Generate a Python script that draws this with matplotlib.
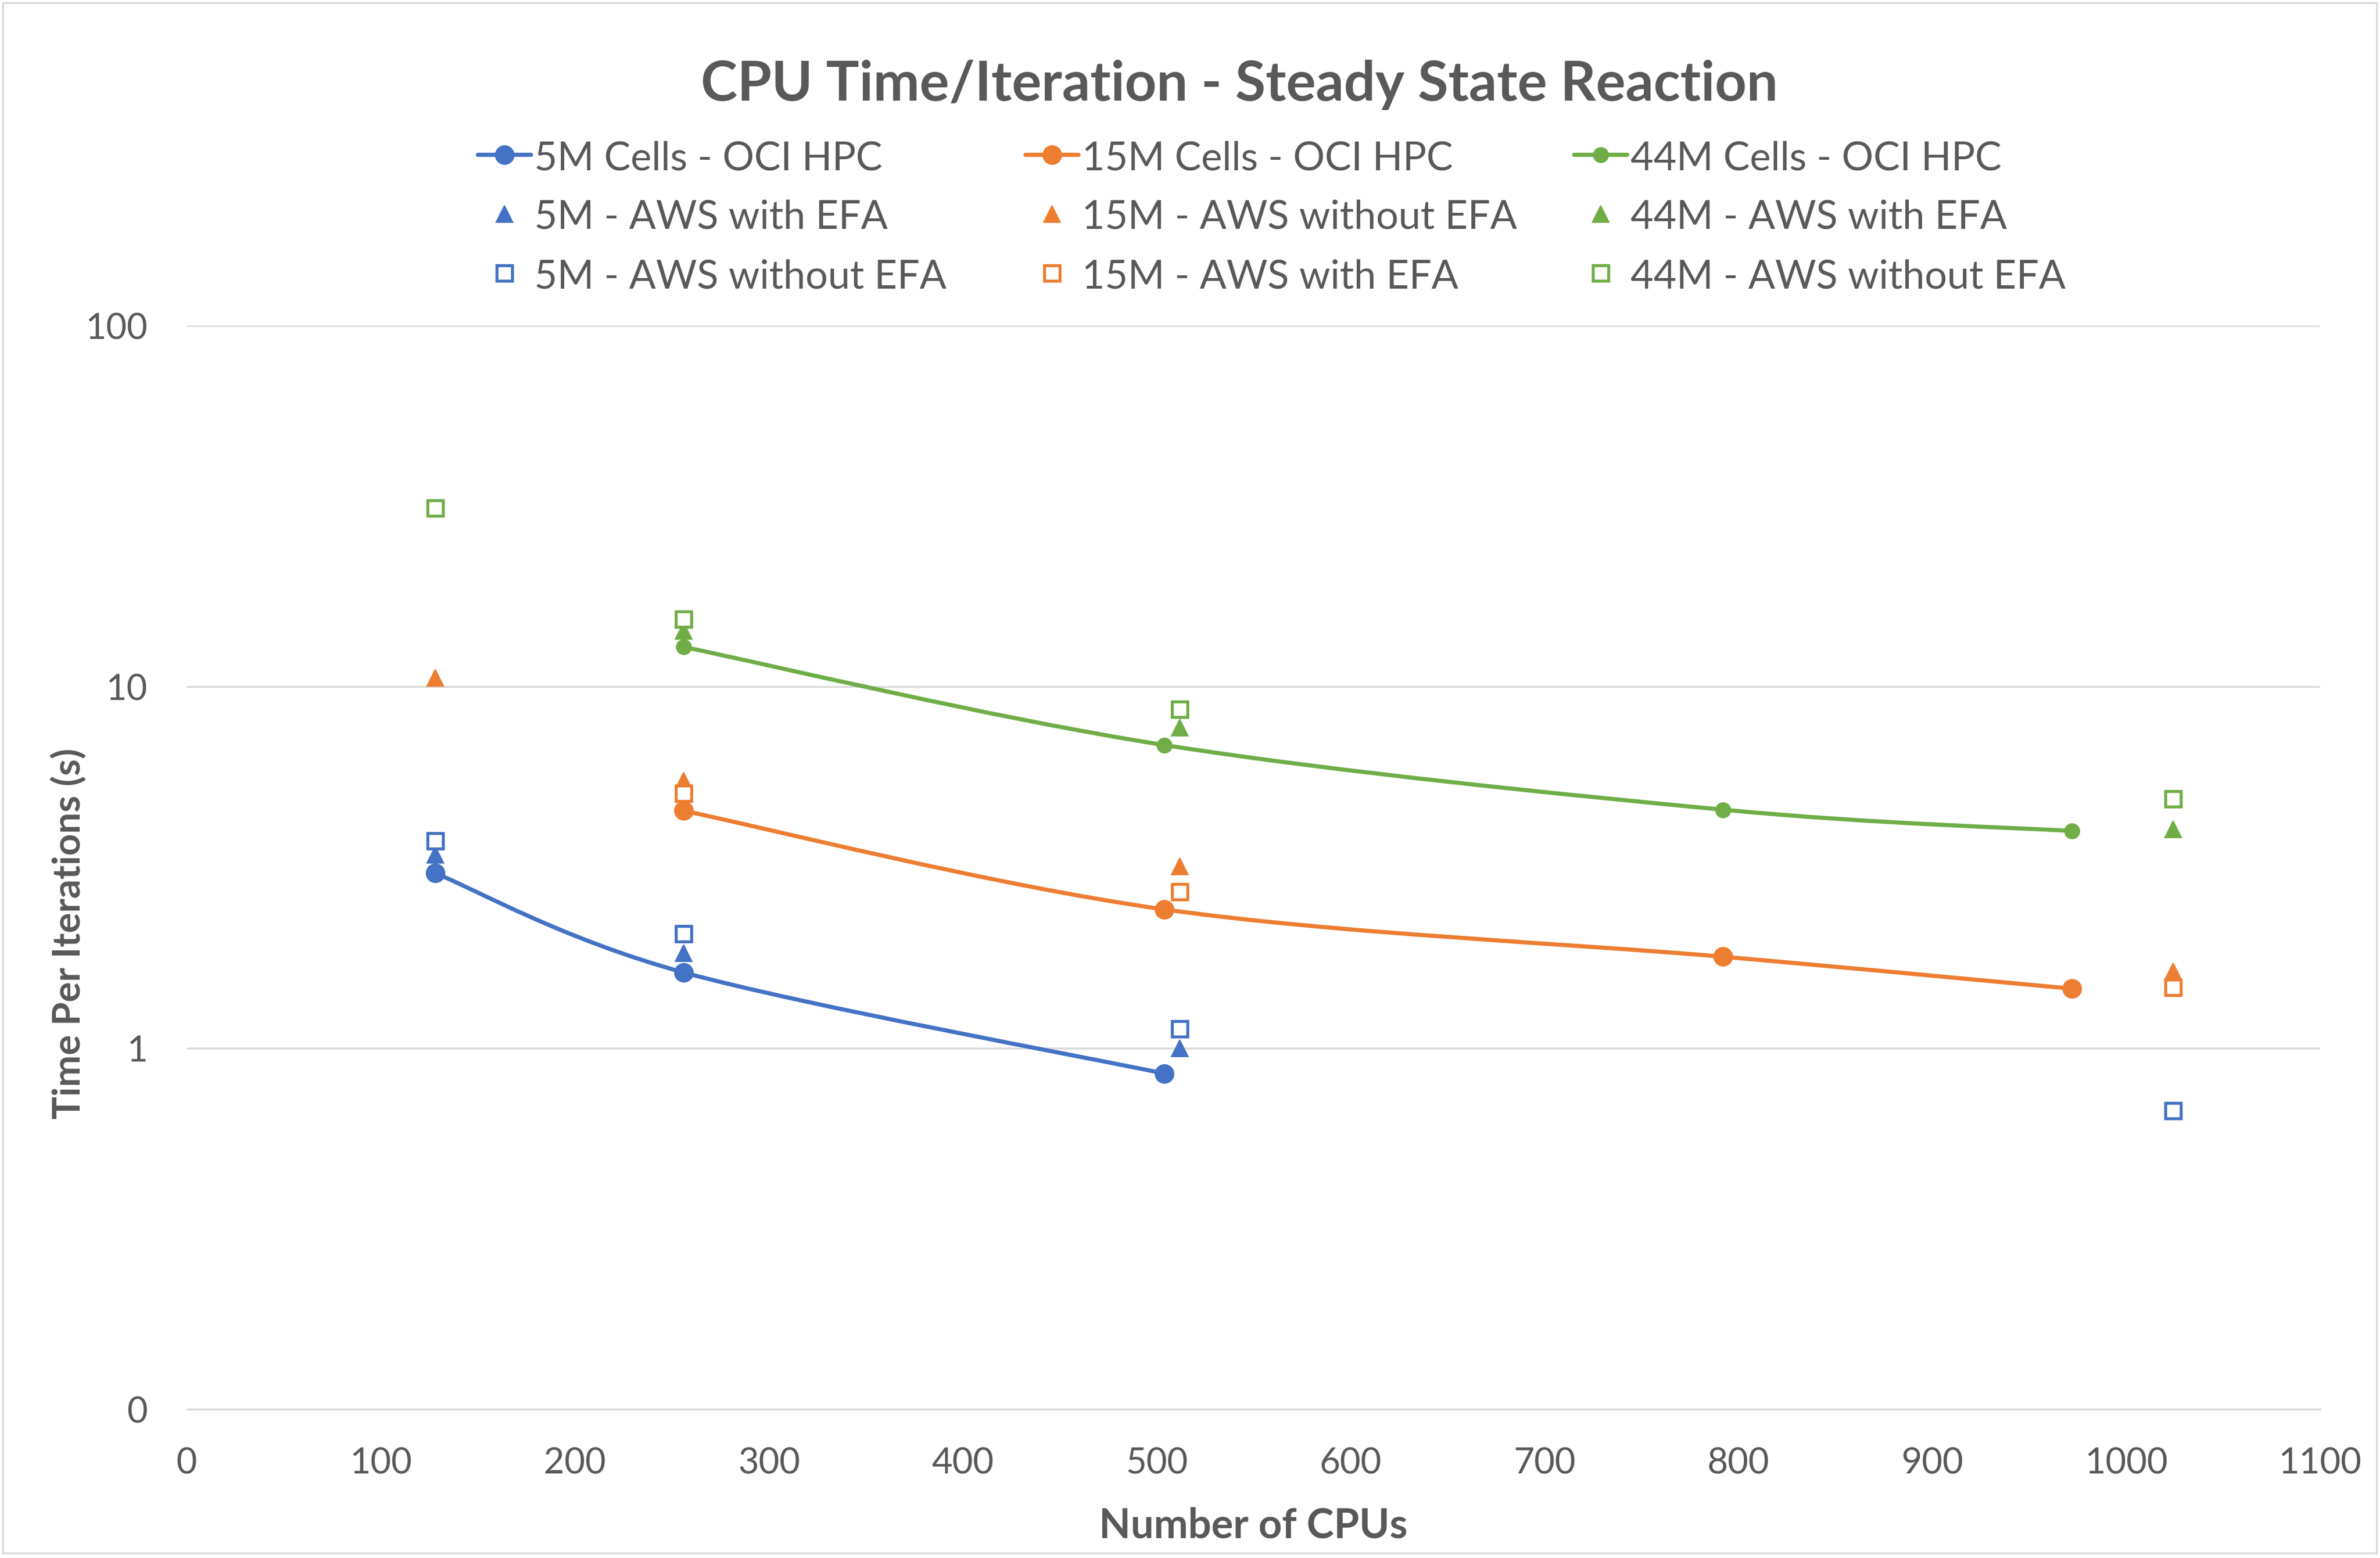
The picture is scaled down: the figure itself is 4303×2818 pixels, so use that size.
import numpy as np
import matplotlib
matplotlib.use("Agg")
import matplotlib.pyplot as plt
from matplotlib.path import Path
from matplotlib.patches import PathPatch, Rectangle
from matplotlib.lines import Line2D
from matplotlib.ticker import FixedLocator, FuncFormatter, NullLocator

plt.rcParams['font.family'] = ['Lato', 'DejaVu Sans']

# data
cpus_5m_oci = [128, 256, 504]
time_5m_oci = [3.05, 1.62, 0.85]
cpus_15m_oci = [256, 504, 792, 972]
time_15m_oci = [4.54, 2.42, 1.79, 1.46]
cpus_44m_oci = [256, 504, 792, 972]
time_44m_oci = [12.9, 6.9, 4.57, 3.99]

cpus_5m_efa = [128, 256, 512]
time_5m_efa = [3.43, 1.83, 1.0]
cpus_5m_noefa = [128, 256, 512, 1024]
time_5m_noefa = [3.74, 2.07, 1.13, 0.67]
cpus_15m_noefa = [128, 256, 512, 1024]
time_15m_noefa = [10.6, 5.5, 3.19, 1.63]
cpus_15m_efa = [256, 512, 1024]
time_15m_efa = [5.08, 2.71, 1.47]
cpus_44m_efa = [256, 512, 1024]
time_44m_efa = [14.3, 7.7, 4.03]
cpus_44m_noefa = [128, 256, 512, 1024]
time_44m_noefa = [31.3, 15.4, 8.68, 4.89]

x_ticks = [0, 100, 200, 300, 400, 500, 600, 700, 800, 900, 1000, 1100]
y_ticks = [0.1, 1, 10, 100]

BLUE = '#4472C4'
ORANGE = '#ED7D31'
GREEN = '#70AD47'
TEXT = '#595959'
GRID = '#D9D9D9'


def smooth_path(xs, ys):
    # Excel-like smoothed line: cubic bezier through the points, built in (x, log y)
    px = np.asarray(xs, float)
    py = np.log10(np.asarray(ys, float))
    n = len(px)
    verts = [(px[0], py[0])]
    codes = [Path.MOVETO]
    for i in range(n - 1):
        i0 = max(i - 1, 0)
        i3 = min(i + 2, n - 1)
        c1 = (px[i] + (px[i + 1] - px[i0]) / 6, py[i] + (py[i + 1] - py[i0]) / 6)
        c2 = (px[i + 1] - (px[i3] - px[i]) / 6, py[i + 1] - (py[i3] - py[i]) / 6)
        verts += [c1, c2, (px[i + 1], py[i + 1])]
        codes += [Path.CURVE4] * 3
    v = np.array(verts)
    v[:, 1] = 10 ** v[:, 1]
    return Path(v, codes)


W, H = 4303, 2818
fig = plt.figure(figsize=(W / 300, H / 300), dpi=300)
ax = fig.add_axes([338 / W, 1 - 2549 / H, (4195 - 338) / W, (2549 - 589) / H])

ax.set_yscale('log')
ax.set_xlim(0, 1100)
ax.set_ylim(0.1, 100)

# series: (label, x, y, color, marker, size, line?)
series = [
    ('5M Cells - OCI HPC', cpus_5m_oci, time_5m_oci, BLUE, 'o', 8.0, True),
    ('15M Cells - OCI HPC', cpus_15m_oci, time_15m_oci, ORANGE, 'o', 8.0, True),
    ('44M Cells - OCI HPC', cpus_44m_oci, time_44m_oci, GREEN, 'o', 6.4, True),
    ('5M - AWS with EFA', cpus_5m_efa, time_5m_efa, BLUE, '^', 7.0, False),
    ('15M - AWS without EFA', cpus_15m_noefa, time_15m_noefa, ORANGE, '^', 7.0, False),
    ('44M - AWS with EFA', cpus_44m_efa, time_44m_efa, GREEN, '^', 7.0, False),
    ('5M - AWS without EFA', cpus_5m_noefa, time_5m_noefa, BLUE, 's', 6.6, False),
    ('15M - AWS with EFA', cpus_15m_efa, time_15m_efa, ORANGE, 's', 6.6, False),
    ('44M - AWS without EFA', cpus_44m_noefa, time_44m_noefa, GREEN, 's', 6.6, False),
]

def marker_style(color, marker, size):
    if marker == 's':
        return dict(marker='s', ms=size, mfc='white', mec=color, mew=1.3)
    return dict(marker=marker, ms=size, mfc=color, mec=color, mew=0.5)

for k, (label, xs, ys, color, marker, size, has_line) in enumerate(series):
    z = 3 + k
    if has_line:
        ax.add_patch(PathPatch(smooth_path(xs, ys), facecolor='none', edgecolor=color,
                               lw=1.8, capstyle='round', joinstyle='round', zorder=z))
    ax.plot(xs, ys, ls='none', zorder=z + 0.5, **marker_style(color, marker, size))

# axes styling
for side in ['left', 'right', 'top']:
    ax.spines[side].set_visible(False)
ax.spines['bottom'].set_color(GRID)
ax.spines['bottom'].set_linewidth(0.8)
ax.yaxis.set_major_locator(FixedLocator(y_ticks))
ax.yaxis.set_minor_locator(NullLocator())
ax.yaxis.set_major_formatter(FuncFormatter(lambda v, p: f"{v:.0f}"))
ax.xaxis.set_major_locator(FixedLocator(x_ticks))
ax.grid(axis='y', color=GRID, lw=0.8, zorder=0)
ax.set_axisbelow(True)
ax.tick_params(axis='y', length=0, pad=17, labelsize=15.5, labelcolor=TEXT)
ax.tick_params(axis='x', length=0, pad=16.5, labelsize=15.5, labelcolor=TEXT)

# titles
fig.text(2241 / W, 1 - 182 / H, 'CPU Time/Iteration - Steady State Reaction',
         ha='center', va='baseline', fontsize=24, fontweight='bold', color=TEXT)
fig.text(2266 / W, 1 - 2782 / H, 'Number of CPUs', ha='center', va='baseline',
         fontsize=17.8, fontweight='bold', color=TEXT)
fig.text(125 / W, 1 - 1689 / H, 'Time Per Iterations (s)', ha='center', va='center',
         rotation=90, fontsize=16.5, fontweight='bold', color=TEXT)

# legend laid out like the Excel one: 3 columns, filled row by row
col_x = [864, 1854, 2846]
row_mid = [280, 387, 494]
row_base = [307, 413, 521]
for k, (label, xs, ys, color, marker, size, has_line) in enumerate(series):
    r, c = k // 3, k % 3
    x0 = col_x[c] / W
    x1 = (col_x[c] + 96) / W
    ym = 1 - row_mid[r] / H
    if has_line:
        fig.add_artist(Line2D([x0, x1], [ym, ym], color=color, lw=1.8,
                              solid_capstyle='round', transform=fig.transFigure))
    fig.add_artist(Line2D([(x0 + x1) / 2], [ym], ls='none', transform=fig.transFigure,
                          **marker_style(color, marker, size)))
    fig.text((col_x[c] + 102) / W, 1 - row_base[r] / H, label, ha='left', va='baseline',
             fontsize=17.2, color=TEXT)

# chart border
fig.add_artist(Rectangle((5 / W, 9 / H), (4297 - 5) / W, (H - 14) / H, fill=False,
                         edgecolor=GRID, lw=0.8, transform=fig.transFigure))

fig.savefig('out.png', dpi=300, facecolor='white')
